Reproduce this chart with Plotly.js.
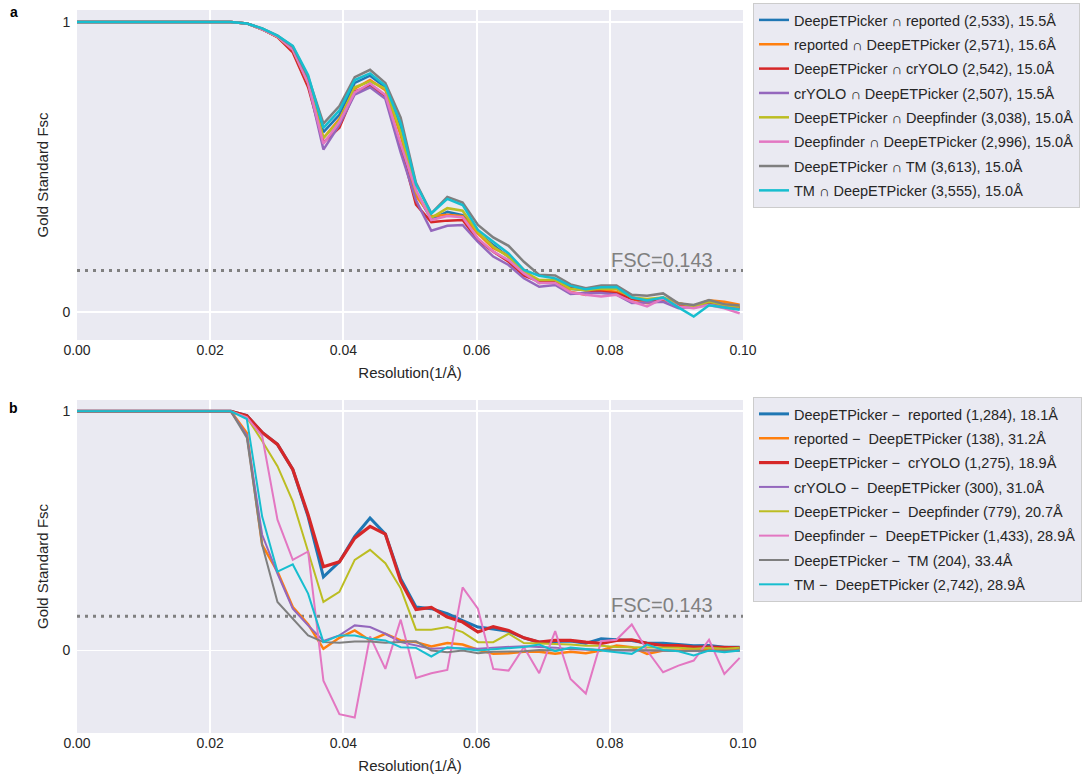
<!DOCTYPE html>
<html>
<head>
<meta charset="utf-8">
<script src="https://cdn.plot.ly/plotly-3.0.1.min.js"></script>
<style>html,body{margin:0;padding:0;background:#fff;}#chart{width:1087px;height:778px;}</style>
</head>
<body>
<div id="chart"></div>
<script>
// Spatial frequency (1/Å) of each FSC shell
const freq = [0.0000,0.0023,0.0046,0.0069,0.0093,0.0116,0.0139,0.0162,0.0185,0.0208,0.0231,
  0.0255,0.0278,0.0301,0.0324,0.0347,0.0370,0.0394,0.0417,0.0440,0.0463,0.0486,0.0509,0.0532,
  0.0556,0.0579,0.0602,0.0625,0.0648,0.0671,0.0694,0.0718,0.0741,0.0764,0.0787,0.0810,0.0833,
  0.0856,0.0880,0.0903,0.0926,0.0949,0.0972,0.0995];

const FSC_THRESHOLD = 0.143;

// Panel a: intersections
const namesA = [
  "DeepETPicker ∩ reported (2,533), 15.5Å",
  "reported ∩ DeepETPicker (2,571), 15.6Å",
  "DeepETPicker ∩ crYOLO (2,542), 15.0Å",
  "crYOLO ∩ DeepETPicker (2,507), 15.5Å",
  "DeepETPicker ∩ Deepfinder (3,038), 15.0Å",
  "Deepfinder ∩ DeepETPicker (2,996), 15.0Å",
  "DeepETPicker ∩ TM (3,613), 15.0Å",
  "TM ∩ DeepETPicker (3,555), 15.0Å"
];
const a_blue   = [1,1,1,1,1,1,1,1,1,1,1,.995,.975,.95,.91,.80,.62,.68,.79,.815,.775,.63,.41,.32,.345,.334,.272,.231,.19,.14,.10,.11,.08,.075,.08,.08,.05,.04,.05,.025,.015,.035,.025,.015];
const a_orange = [1,1,1,1,1,1,1,1,1,1,1,.995,.975,.948,.90,.79,.60,.665,.77,.80,.765,.61,.40,.33,.335,.33,.27,.22,.195,.145,.10,.105,.07,.059,.075,.07,.045,.03,.04,.03,.02,.04,.035,.025];
const a_red    = [1,1,1,1,1,1,1,1,1,1,1,.995,.975,.948,.895,.775,.585,.635,.76,.78,.745,.57,.37,.31,.315,.317,.248,.208,.173,.125,.105,.105,.085,.075,.07,.065,.045,.04,.045,.025,.015,.03,.025,.015];
const a_purple = [1,1,1,1,1,1,1,1,1,1,1,.995,.975,.95,.905,.79,.56,.645,.75,.775,.735,.55,.385,.28,.297,.30,.242,.191,.162,.116,.087,.093,.062,.065,.065,.06,.031,.033,.035,.013,.02,.025,.02,.01];
const a_olive  = [1,1,1,1,1,1,1,1,1,1,1,.995,.975,.95,.905,.79,.60,.66,.775,.795,.77,.62,.415,.325,.358,.349,.275,.225,.19,.14,.11,.11,.08,.075,.08,.08,.05,.045,.05,.03,.02,.035,.025,.018];
const a_pink   = [1,1,1,1,1,1,1,1,1,1,1,.995,.975,.95,.905,.79,.58,.655,.757,.788,.748,.58,.42,.317,.331,.327,.254,.208,.179,.133,.10,.10,.068,.059,.053,.059,.036,.019,.047,.019,.013,.024,.013,-.005];
const a_gray   = [1,1,1,1,1,1,1,1,1,1,1,.995,.978,.953,.915,.81,.65,.71,.81,.835,.79,.67,.445,.34,.397,.377,.30,.257,.228,.173,.128,.126,.095,.082,.091,.091,.059,.056,.064,.03,.024,.041,.027,.022];
const a_cyan   = [1,1,1,1,1,1,1,1,1,1,1,.995,.978,.953,.918,.817,.635,.695,.80,.823,.78,.65,.44,.34,.39,.369,.283,.242,.202,.145,.125,.116,.09,.078,.085,.086,.05,.04,.05,.016,-.016,.023,.016,.008];

// Panel b: differences
const namesB = [
  "DeepETPicker −\u00a0 reported (1,284), 18.1Å",
  "reported −\u00a0 DeepETPicker (138), 31.2Å",
  "DeepETPicker −\u00a0 crYOLO (1,275), 18.9Å",
  "crYOLO −\u00a0 DeepETPicker (300), 31.0Å",
  "DeepETPicker −\u00a0 Deepfinder (779), 20.7Å",
  "Deepfinder −\u00a0 DeepETPicker (1,433), 28.9Å",
  "DeepETPicker −\u00a0 TM (204), 33.4Å",
  "TM −\u00a0 DeepETPicker (2,742), 28.9Å"
];
const b_blue   = [1,1,1,1,1,1,1,1,1,1,1,.982,.912,.862,.757,.56,.308,.371,.477,.554,.487,.30,.182,.175,.154,.125,.098,.09,.08,.053,.035,.038,.04,.03,.049,.045,.042,.03,.03,.025,.02,.021,.014,.014];
const b_orange = [1,1,1,1,1,1,1,1,1,1,1,.91,.442,.33,.182,.11,.007,.053,.084,.042,.07,.042,.035,.017,.031,.025,.003,-.014,-.012,-.005,-.005,-.014,-.005,-.011,0,.021,.014,-.014,0,0,.002,.001,0,0];
const b_red    = [1,1,1,1,1,1,1,1,1,1,1,.982,.912,.862,.757,.568,.35,.371,.47,.519,.487,.29,.171,.18,.14,.119,.077,.1,.084,.053,.035,.042,.042,.035,.03,.042,.045,.03,.021,.021,.014,.014,.011,.011];
const b_purple = [1,1,1,1,1,1,1,1,1,1,1,.90,.484,.322,.175,.105,.04,.063,.105,.098,.07,.035,.021,.007,.01,.007,.007,.012,.015,.018,.015,.012,.005,.002,.002,0,0,.002,0,-.002,-.002,0,-.002,-.002];
const b_olive  = [1,1,1,1,1,1,1,1,1,1,1,.975,.876,.771,.624,.414,.203,.245,.379,.421,.365,.26,.087,.087,.098,.077,.035,.035,.07,.031,.028,.027,.025,.02,.02,.015,.014,.014,.014,.011,.007,.011,.007,.011];
const b_pink   = [1,1,1,1,1,1,1,1,1,1,1,.975,.897,.547,.379,.414,-.126,-.266,-.28,.059,-.077,.129,-.115,-.095,-.081,.264,.175,-.077,-.084,.014,-.095,.081,-.119,-.18,.039,.045,.109,0,-.091,-.063,-.042,.045,-.098,-.031];
const b_gray   = [1,1,1,1,1,1,1,1,1,1,1,.89,.442,.203,.133,.063,.035,.032,.038,.038,.032,.035,.039,0,-.007,0,-.011,-.005,-.004,-.003,.002,0,.008,.004,.002,.002,.002,0,0,-.002,-.002,-.003,-.003,0];
const b_cyan   = [1,1,1,1,1,1,1,1,1,1,1,.968,.56,.33,.36,.238,.035,.063,.063,.049,.042,.014,.011,-.025,.014,.007,0,.005,.011,.015,.025,-.003,.012,.007,0,-.007,-.014,.025,.002,-.003,-.021,0,-.007,0];

const xTicks = [0, 0.02, 0.04, 0.06, 0.08, 0.10];
const xTickText = ["0.00", "0.02", "0.04", "0.06", "0.08", "0.10"];
const yTicks = [0, 1];
const yTickText = ["0", "1"];

const colors = ["#1f77b4","#ff7f0e","#d62728","#9467bd","#bcbd22","#e377c2","#7f7f7f","#17becf"];
const seriesA = [a_blue,a_orange,a_red,a_purple,a_olive,a_pink,a_gray,a_cyan];
const seriesB = [b_blue,b_orange,b_red,b_purple,b_olive,b_pink,b_gray,b_cyan];
const widthsA = [2.5,2.5,2.5,2.5,2.5,2.5,2.5,2.5];
const widthsB = [3,2.5,3.2,2,2,2,2,2];

const traces = [];
seriesA.forEach((ys, i) => traces.push({
  type: "scatter", mode: "lines", x: freq, y: ys, name: namesA[i],
  xaxis: "x", yaxis: "y", legend: "legend", legendgroup: "a" + i,
  line: {color: colors[i], width: widthsA[i]}
}));
seriesB.forEach((ys, i) => traces.push({
  type: "scatter", mode: "lines", x: freq, y: ys, name: namesB[i],
  xaxis: "x2", yaxis: "y2", legend: "legend2", legendgroup: "b" + i,
  line: {color: colors[i], width: widthsB[i]}
}));

const FONT = "Liberation Sans, Arial, Helvetica, sans-serif";
const TXT = "#262626";
function xax(anchor) {
  return {
    anchor: anchor, domain: [0, 1], range: [0, 0.1],
    tickvals: xTicks, ticktext: xTickText,
    showgrid: true, gridcolor: "#ffffff", gridwidth: 1.8,
    zeroline: false, showline: false, ticks: "",
    tickfont: {family: FONT, size: 14, color: TXT},
    title: {text: "Resolution(1/Å)", font: {family: FONT, size: 15, color: TXT}, standoff: 10}
  };
}
function yax(anchor, domain, range) {
  return {
    anchor: anchor, domain: domain, range: range,
    tickvals: yTicks, ticktext: yTickText,
    showgrid: true, gridcolor: "#ffffff", gridwidth: 1.8,
    zeroline: false, showline: false, ticks: "outside", ticklen: 3, tickcolor: "rgba(0,0,0,0)",
    tickfont: {family: FONT, size: 14, color: TXT},
    title: {text: "Gold Standard Fsc", font: {family: FONT, size: 15, color: TXT}, standoff: 10}
  };
}
const legendStyle = (y) => ({
  x: 1.015, y: y, xanchor: "left", yanchor: "top", xref: "paper", yref: "paper",
  bgcolor: "#EAEAF2", bordercolor: "#CCCCCC", borderwidth: 1,
  font: {family: FONT, size: 14.5, color: TXT}, tracegroupgap: 2.5, traceorder: "grouped"
});

const layout = {
  width: 1087, height: 778,
  margin: {l: 77, r: 344, t: 10, b: 45, autoexpand: false},
  paper_bgcolor: "#ffffff", plot_bgcolor: "#EAEAF2",
  font: {family: FONT, color: TXT},
  showlegend: true,
  xaxis: xax("y"),
  yaxis: yax("x", [0.5436, 1], [-0.0966, 1.0414]),
  xaxis2: xax("y2"),
  yaxis2: yax("x2", [0, 0.4606], [-0.345, 1.0476]),
  legend: legendStyle(1.0097),
  legend2: legendStyle(0.4648),
  shapes: [
    {type: "line", xref: "x", yref: "y", x0: 0, x1: 0.1, y0: FSC_THRESHOLD, y1: FSC_THRESHOLD,
     line: {color: "#808080", width: 3, dash: "3px,5px"}, layer: "between"},
    {type: "line", xref: "x2", yref: "y2", x0: 0, x1: 0.1, y0: FSC_THRESHOLD, y1: FSC_THRESHOLD,
     line: {color: "#808080", width: 3, dash: "3px,5px"}, layer: "between"}
  ],
  annotations: [
    {xref: "x", yref: "y", x: 0.08, y: FSC_THRESHOLD, xanchor: "left", yanchor: "bottom",
     text: "FSC=0.143", showarrow: false, font: {family: FONT, size: 20, color: "#808080"}, yshift: -2, xshift: -1},
    {xref: "x2", yref: "y2", x: 0.08, y: FSC_THRESHOLD, xanchor: "left", yanchor: "bottom",
     text: "FSC=0.143", showarrow: false, font: {family: FONT, size: 20, color: "#808080"}, yshift: -2, xshift: -1},
    {xref: "paper", yref: "paper", x: -0.0946, y: 0.997, xanchor: "center", yanchor: "middle",
     text: "<b>a</b>", showarrow: false, font: {family: FONT, size: 14, color: "#000"}},
    {xref: "paper", yref: "paper", x: -0.0946, y: 0.4495, xanchor: "center", yanchor: "middle",
     text: "<b>b</b>", showarrow: false, font: {family: FONT, size: 14, color: "#000"}}
  ]
};

Plotly.newPlot("chart", traces, layout, {displayModeBar: false, staticPlot: true});
</script>
</body>
</html>
